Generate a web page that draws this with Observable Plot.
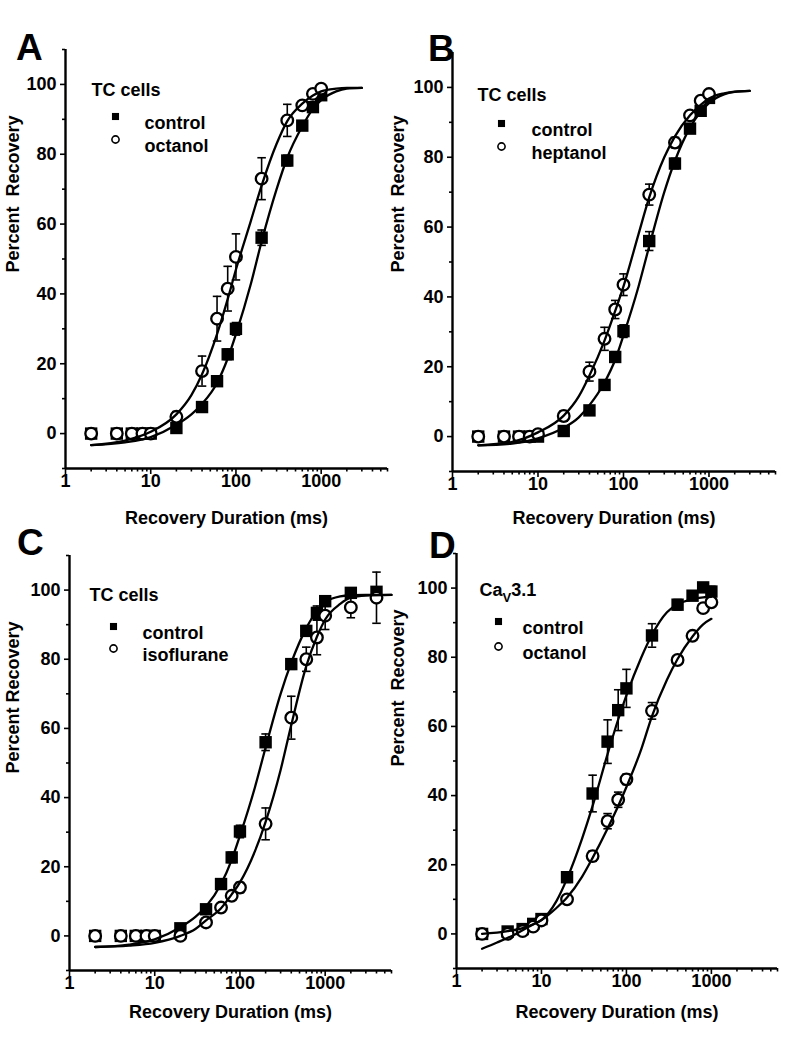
<!DOCTYPE html>
<html><head><meta charset="utf-8">
<script src="https://cdn.jsdelivr.net/npm/d3@7"></script>
<script src="https://cdn.jsdelivr.net/npm/@observablehq/plot@0.6"></script>
<style>
body{margin:0;background:#fff;}
#wrap{position:relative;width:804px;height:1050px;overflow:hidden;background:#fff;}
#wrap svg{position:absolute;}
</style></head><body><div id="wrap"></div>
<script>
// ---------- tick labels ----------
const xTicks = [1, 10, 100, 1000];
const xMinorTicks = [2,3,4,5,6,7,8,9,20,30,40,50,60,70,80,90,200,300,400,500,600,700,800,900,2000,3000,4000,5000,6000];
const yTicks = [0, 20, 40, 60, 80, 100];
const yMinorTicks = [-10, 10, 30, 50, 70, 90, 110];

// ---------- Panel A : TC cells, control vs octanol ----------
const durA = [2,4,6,8,10,20,40,60,80,100,200,400,600,800,1000];
const ctrlA = [0,0,0,0,0,1.6,7.6,15,22.7,30,56.1,78.2,88.2,93.5,96.9];
const ctrlErrA = [0,0,0,0,0,0.8,1,1.2,1.5,1.8,2.2,1.5,1,1,1];
const octA = [0,0,0,0,0,4.8,17.9,32.9,41.5,50.6,73,89.7,94,97.3,98.8];
const octErrA = [0,0,0,0,0,1.5,4.3,6.4,6.4,6.6,6,4.6,1,1,1];
const fitXA = [2,5,10,20,30,40,60,80,100,150,200,300,400,600,800,1000,1500,2000,3000];
const fitCtrlA = [-3.3,-2.5,-1,2.5,5.5,8.5,14.5,21.5,28.5,43,55,70,79,88,93,95.5,98,98.8,99];
const fitOctA = [-3.3,-2,0.5,5.5,11,17,28.5,38.5,47,61,71,83,89.5,94.5,96.8,98,98.8,99,99];

// ---------- Panel B : TC cells, control vs heptanol ----------
const durB = [2,4,6,8,10,20,40,60,80,100,200,400,600,800,1000];
const ctrlB = [0,0,0,0,0,1.6,7.5,14.8,22.8,30.2,56,78.2,88.2,93.3,97];
const ctrlErrB = [0,0,0,0,0,0.8,1,1.2,1.5,1.8,2.7,1.5,1,1,1];
const hepB = [0,0,0,0,0.7,5.9,18.6,28,36.4,43.5,69.3,84.2,92,96.2,98.1];
const hepErrB = [0,0,0,0,1.2,1.5,2.7,3.3,2.6,3.1,3,1.5,1,1,1];
const fitXB = [2,5,10,20,30,40,60,80,100,150,200,300,400,600,800,1000,1500,2000,3000];
const fitCtrlB = [-2.5,-2,-0.5,2.5,5.5,9,15.5,22,29,43,54.5,70,79,88.5,93,95.5,98,98.7,99];
const fitHepB = [-2.5,-1.5,1.2,6,11.5,17.5,27.5,36,43,58,68.5,80,86,92,95,96.8,98.3,98.8,99];

// ---------- Panel C : TC cells, control vs isoflurane ----------
const durC = [2,4,6,8,10,20,40,60,80,100,200,400,600,800,1000,2000,4000];
const ctrlC = [0,0,0,0,0,2.2,7.7,15,22.7,30.2,56,78.6,88.2,93.4,96.8,99.2,99.5];
const ctrlErrC = [0,0,0,0,0,1,1.2,1.2,1.5,1.8,2.4,1.5,1.5,2,1.5,1,1];
const isoC = [0,0,0,0,0,0,3.9,8.2,11.6,14,32.4,63.1,80,86.3,92.6,95,97.8];
const isoErrC = [0,0,0,0,0,1.2,1.2,1,1,1.5,4.6,6.2,3.5,5,4,3,7.4];
const fitXC = [2,5,10,20,30,40,60,80,100,150,200,300,400,600,800,1000,1500,2000,3000,6000];
const fitCtrlC = [-3.2,-2.5,-1,2.5,5.5,8.5,15,22,29,43,54.5,70,79,89,94,96.5,98.2,98.5,98.6,98.6];
const fitIsoC = [-3.2,-2.8,-2,0,2,4.5,8,12,15.5,24.5,33,48,61,78,86.5,91.5,96,97.8,98.4,98.6];

// ---------- Panel D : CaV3.1, control vs octanol ----------
const durD = [2,4,6,8,10,20,40,60,80,100,200,400,600,800,1000];
const ctrlD = [0,0.7,1.4,2.9,4.3,16.4,40.6,55.6,64.7,71,86.3,95.2,97.8,100.2,99];
const ctrlErrD = [0,0.5,0.5,0.8,1,1.5,5.3,6.3,5.9,5.5,3.4,1.5,1,1,1.5];
const octD = [0,0,0.8,2.1,3.9,10,22.5,32.6,38.8,44.7,64.5,79.2,86.2,94.2,95.9];
const octErrD = [0,0.5,0.5,0.8,1,1,1.5,2.2,2.2,1.5,2.4,0,0,0,0];
const fitXCtrlD = [2,4,6,8,10,15,20,30,40,60,80,100,150,200,300,400,600,800,1000];
const fitCtrlD = [0,0.8,1.7,2.8,4,9.5,16,27.5,37,52,62,69,80,86.5,93,95.3,96.8,97.3,97.5];
const fitXOctD = [2,3,5,7,10,15,20,30,40,60,80,100,150,200,300,400,600,800,1000];
const fitOctD = [-4.3,-2.5,0,2,4,7.5,10.5,16.5,22,30.5,37,42.5,53.5,63,73.5,79.5,86,89.5,91.1];

// ---------- text ----------
const yTitle = "Percent\u00A0 Recovery";
const xTitle = "Recovery Duration (ms)";

const FONT = "'Liberation Sans', Arial, Helvetica, sans-serif";
const capSymbol = {draw(ctx, size) { const w = Math.sqrt(size) / 2; ctx.moveTo(-w, 0); ctx.lineTo(w, 0); }};

const panels = [
  {letter:"A", left:0, top:0, width:400, height:540, m:[49,13,72,65], xMax:6000,
   dur:durA, ctrl:ctrlA, ctrlErr:ctrlErrA, drug:octA, drugErr:octErrA,
   fitXc:fitXA, fitC:fitCtrlA, fitXd:fitXA, fitD:fitOctA,
   title:"TC cells", drugName:"octanol", yTitle:yTitle,
   L:{letter:[-49.5,-15.5], title:[26,34], sq:[50,67], ct:[79,67], ci:[50,90], dt:[79,90], yt:[-52.5,13.5], xt:55}},
  {letter:"B", left:400, top:0, width:404, height:540, m:[52,29,69,52], xMax:6000,
   dur:durB, ctrl:ctrlB, ctrlErr:ctrlErrB, drug:hepB, drugErr:hepErrB,
   fitXc:fitXB, fitC:fitCtrlB, fitXd:fitXB, fitD:fitHepB,
   title:"TC cells", drugName:"heptanol", yTitle:yTitle,
   L:{letter:[-24.5,-17.5], title:[25,36], sq:[49,71], ct:[79,71], ci:[49,94], dt:[79,94], yt:[-54,10.5], xt:52}},
  {letter:"C", left:0, top:500, width:400, height:550, m:[55,9,80,69], xMax:6000,
   dur:durC, ctrl:ctrlC, ctrlErr:ctrlErrC, drug:isoC, drugErr:isoErrC,
   fitXc:fitXC, fitC:fitCtrlC, fitXd:fitXC, fitD:fitIsoC,
   title:"TC cells", drugName:"isoflurane", yTitle:"Percent Recovery",
   L:{letter:[-52.5,-27], title:[20,33], sq:[44,71], ct:[73,71], ci:[44,93], dt:[73,93], yt:[-56.5,10.5], xt:47}},
  {letter:"D", left:400, top:500, width:404, height:550, m:[53,27,82,56], xMax:6000,
   dur:durD, ctrl:ctrlD, ctrlErr:ctrlErrD, drug:octD, drugErr:octErrD,
   fitXc:fitXCtrlD, fitC:fitCtrlD, fitXd:fitXOctD, fitD:fitOctD,
   title:"CaV3.1", drugName:"octanol", yTitle:yTitle,
   L:{letter:[-27.5,-22], title:[23,30], sq:[42,68], ct:[66,68], ci:[42,93], dt:[66,93], yt:[-58,5.5], xt:49}}
];

const wrap = document.getElementById("wrap");

for (const p of panels) {
  const ctrlPts = p.dur.map((x, i) => ({x, y: p.ctrl[i], e: p.ctrlErr[i]}));
  const drugPts = p.dur.map((x, i) => ({x, y: p.drug[i], e: p.drugErr[i]}));
  const fitC = p.fitXc.map((x, i) => ({x, y: p.fitC[i]}));
  const fitD = p.fitXd.map((x, i) => ({x, y: p.fitD[i]}));
  const ctrlE = ctrlPts.filter(d => d.e > 0);
  const drugE = drugPts.filter(d => d.e > 0);
  const L = p.L;
  const txt = (s, pos, o = {}) => Plot.text([s], {text: d => d, frameAnchor: "top-left", dx: pos[0], dy: pos[1],
      textAnchor: "start", fontSize: 18, fontWeight: "bold", fill: "black", ...o});
  const errMarks = (data) => [
    Plot.ruleX(data, {x: "x", y1: d => d.y - d.e, y2: d => d.y + d.e, stroke: "black", strokeWidth: 1.6}),
    Plot.dot(data, {x: "x", y: d => d.y + d.e, symbol: capSymbol, r: 4.8, fill: "none", stroke: "black", strokeWidth: 1.6}),
    Plot.dot(data, {x: "x", y: d => d.y - d.e, symbol: capSymbol, r: 4.8, fill: "none", stroke: "black", strokeWidth: 1.6})
  ];
  const svg = Plot.plot({
    width: p.width, height: p.height,
    marginTop: p.m[0], marginRight: p.m[1], marginBottom: p.m[2], marginLeft: p.m[3],
    style: {background: "transparent", fontFamily: FONT, fontWeight: "bold", overflow: "visible", color: "black"},
    x: {type: "log", domain: [1, p.xMax]},
    y: {domain: [-10, 110]},
    marks: [
      Plot.axisX(xTicks, {tickSize: 6, tickFormat: () => "", label: null, strokeWidth: 1.6}),
      Plot.axisX(xMinorTicks, {tickSize: 3.5, tickFormat: () => "", label: null, strokeWidth: 1.6}),
      Plot.axisY(yTicks, {tickSize: 5, tickFormat: () => "", label: null, strokeWidth: 1.6}),
      Plot.axisY(yMinorTicks, {tickSize: 3, tickFormat: () => "", label: null, strokeWidth: 1.6}),
      // tick labels drawn through the scales
      Plot.text(xTicks, {x: d => d, text: d => String(d), frameAnchor: "bottom", dy: 18, fontSize: 18, fontWeight: "bold", fill: "black"}),
      Plot.text(yTicks, {y: d => d, text: d => String(d), frameAnchor: "left", dx: -9, textAnchor: "end", fontSize: 18, fontWeight: "bold", fill: "black"}),
      Plot.ruleX([1], {stroke: "black", strokeWidth: 2.4}),
      Plot.ruleY([-10], {stroke: "black", strokeWidth: 2.4}),
      ...errMarks(ctrlE),
      Plot.dot(ctrlPts, {x: "x", y: "y", symbol: "square", r: 7, fill: "black", stroke: "none"}),
      ...errMarks(drugE),
      Plot.dot(drugPts, {x: "x", y: "y", symbol: "circle", r: 5.8, fill: "white", stroke: "black", strokeWidth: 2.3}),
      Plot.line(fitC, {x: "x", y: "y", curve: "monotone-x", stroke: "black", strokeWidth: 2.3}),
      Plot.line(fitD, {x: "x", y: "y", curve: "monotone-x", stroke: "black", strokeWidth: 2.3}),
      // legend
      txt(p.title, L.title),
      Plot.dot([0], {frameAnchor: "top-left", dx: L.sq[0], dy: L.sq[1], symbol: "square", r: 4, fill: "black", stroke: "none"}),
      Plot.dot([0], {frameAnchor: "top-left", dx: L.ci[0], dy: L.ci[1], symbol: "circle", r: 3.6, fill: "white", stroke: "black", strokeWidth: 1.6}),
      txt("control", L.ct),
      txt(p.drugName, L.dt),
      // panel letter and axis titles
      Plot.text([p.letter], {text: d => d, frameAnchor: "top-left", dx: L.letter[0], dy: L.letter[1], fontSize: 37, fontWeight: "bold", fill: "black"}),
      Plot.text([p.yTitle], {text: d => d, frameAnchor: "left", dx: L.yt[0], dy: L.yt[1], rotate: -90, fontSize: 18, fontWeight: "bold", fill: "black"}),
      Plot.text([xTitle], {text: d => d, frameAnchor: "bottom", dy: L.xt, fontSize: 18, fontWeight: "bold", fill: "black"})
    ]
  });
  svg.style.left = p.left + "px";
  svg.style.top = p.top + "px";
  // subscript for CaV3.1
  d3.select(svg).selectAll("text").each(function() {
    if (this.textContent === "CaV3.1") {
      const t = d3.select(this);
      t.text("");
      t.append("tspan").text("Ca");
      t.append("tspan").attr("dy", 6).attr("font-size", 13).text("V");
      t.append("tspan").attr("dy", -6).text("3.1");
    }
  });
  wrap.appendChild(svg);
}
</script>
</body></html>
